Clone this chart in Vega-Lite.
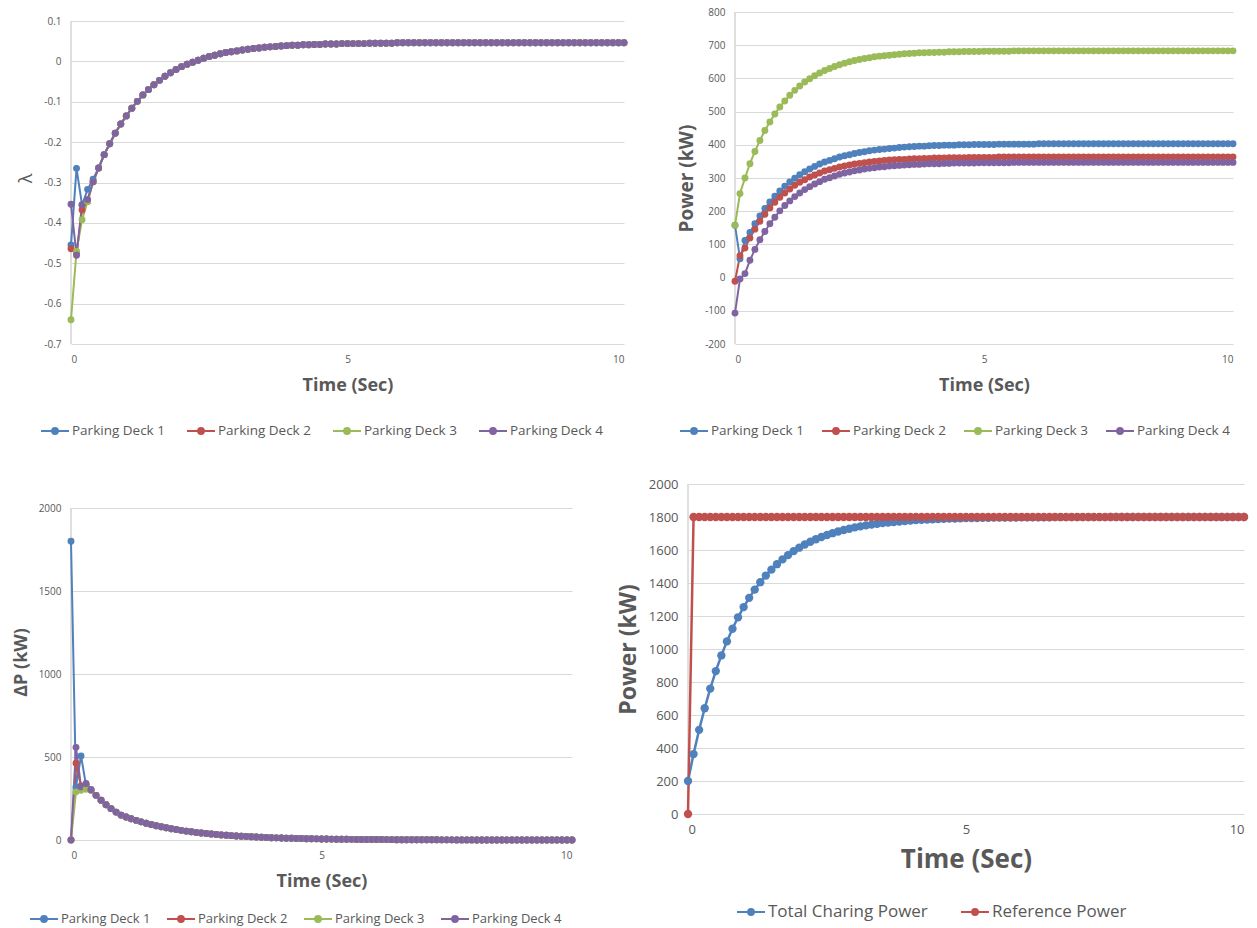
{
"$schema": "https://vega.github.io/schema/vega-lite/v6.json",
"padding": {"left": 12, "top": 7, "right": 5, "bottom": 5},
"config": {
  "font": "Open Sans",
  "locale": {"number": {"decimal": ".", "thousands": ",", "grouping": [3], "currency": ["$", ""], "minus": "-"}},
  "view": {"stroke": null},
  "axis": {"gridColor": "#d9d9d9", "gridWidth": 1, "domain": false, "ticks": false, "labelColor": "#595959", "titleColor": "#595959", "labelFontSize": 10, "titleFontSize": 18, "titleFontWeight": "bold", "labelOverlap": false},
  "axisX": {"grid": false, "labelPadding": 10, "titlePadding": 12},
  "axisY": {"grid": true, "labelPadding": 10, "titlePadding": 8},
  "legend": {"orient": "bottom", "direction": "horizontal", "labelColor": "#595959", "labelFontSize": 13.5, "symbolType": "M-1,0L1,0M0.21,0A0.21,0.21,0,1,1,-0.21,0A0.21,0.21,0,1,1,0.21,0", "symbolSize": 784, "symbolStrokeWidth": 2, "columnPadding": 18, "labelOffset": 2, "offset": 22, "titleOrient": "right", "titleFontSize": 1, "layout": {"bottom": {"anchor": "middle"}}}
},
"datasets": {
"lam": [
{"t":0,"D1":-0.455,"D2":-0.464,"D3":-0.64,"D4":-0.354},
{"t":0.1,"D1":-0.265,"D2":-0.475,"D3":-0.47,"D4":-0.48},
{"t":0.2,"D1":-0.356,"D2":-0.368,"D3":-0.392,"D4":-0.355},
{"t":0.3,"D1":-0.317,"D2":-0.347,"D3":-0.347,"D4":-0.342},
{"t":0.4,"D1":-0.292,"D2":-0.298,"D3":-0.298,"D4":-0.298},
{"t":0.5,"D1":-0.264,"D2":-0.264,"D3":-0.264,"D4":-0.264},
{"t":0.6,"D1":-0.231,"D2":-0.231,"D3":-0.231,"D4":-0.231},
{"t":0.7,"D1":-0.204,"D2":-0.204,"D3":-0.204,"D4":-0.204},
{"t":0.8,"D1":-0.178,"D2":-0.178,"D3":-0.178,"D4":-0.178},
{"t":0.9,"D1":-0.155,"D2":-0.155,"D3":-0.155,"D4":-0.155},
{"t":1,"D1":-0.135,"D2":-0.135,"D3":-0.135,"D4":-0.135},
{"t":1.1,"D1":-0.116,"D2":-0.116,"D3":-0.116,"D4":-0.116},
{"t":1.2,"D1":-0.099,"D2":-0.099,"D3":-0.099,"D4":-0.099},
{"t":1.3,"D1":-0.083,"D2":-0.083,"D3":-0.083,"D4":-0.083},
{"t":1.4,"D1":-0.07,"D2":-0.07,"D3":-0.07,"D4":-0.07},
{"t":1.5,"D1":-0.058,"D2":-0.058,"D3":-0.058,"D4":-0.058},
{"t":1.6,"D1":-0.047,"D2":-0.047,"D3":-0.047,"D4":-0.047},
{"t":1.7,"D1":-0.037,"D2":-0.037,"D3":-0.037,"D4":-0.037},
{"t":1.8,"D1":-0.028,"D2":-0.028,"D3":-0.028,"D4":-0.028},
{"t":1.9,"D1":-0.02,"D2":-0.02,"D3":-0.02,"D4":-0.02},
{"t":2,"D1":-0.013,"D2":-0.013,"D3":-0.013,"D4":-0.013},
{"t":2.1,"D1":-0.007,"D2":-0.007,"D3":-0.007,"D4":-0.007},
{"t":2.2,"D1":-0.002,"D2":-0.002,"D3":-0.002,"D4":-0.002},
{"t":2.3,"D1":0.003,"D2":0.003,"D3":0.003,"D4":0.003},
{"t":2.4,"D1":0.008,"D2":0.008,"D3":0.008,"D4":0.008},
{"t":2.5,"D1":0.012,"D2":0.012,"D3":0.012,"D4":0.012},
{"t":2.6,"D1":0.015,"D2":0.015,"D3":0.015,"D4":0.015},
{"t":2.7,"D1":0.019,"D2":0.019,"D3":0.019,"D4":0.019},
{"t":2.8,"D1":0.022,"D2":0.022,"D3":0.022,"D4":0.022},
{"t":2.9,"D1":0.024,"D2":0.024,"D3":0.024,"D4":0.024},
{"t":3,"D1":0.026,"D2":0.026,"D3":0.026,"D4":0.026},
{"t":3.1,"D1":0.028,"D2":0.028,"D3":0.028,"D4":0.028},
{"t":3.2,"D1":0.03,"D2":0.03,"D3":0.03,"D4":0.03},
{"t":3.3,"D1":0.032,"D2":0.032,"D3":0.032,"D4":0.032},
{"t":3.4,"D1":0.033,"D2":0.033,"D3":0.033,"D4":0.033},
{"t":3.5,"D1":0.035,"D2":0.035,"D3":0.035,"D4":0.035},
{"t":3.6,"D1":0.036,"D2":0.036,"D3":0.036,"D4":0.036},
{"t":3.7,"D1":0.037,"D2":0.037,"D3":0.037,"D4":0.037},
{"t":3.8,"D1":0.038,"D2":0.038,"D3":0.038,"D4":0.038},
{"t":3.9,"D1":0.039,"D2":0.039,"D3":0.039,"D4":0.039},
{"t":4,"D1":0.04,"D2":0.04,"D3":0.04,"D4":0.04},
{"t":4.1,"D1":0.04,"D2":0.04,"D3":0.04,"D4":0.04},
{"t":4.2,"D1":0.041,"D2":0.041,"D3":0.041,"D4":0.041},
{"t":4.3,"D1":0.041,"D2":0.041,"D3":0.041,"D4":0.041},
{"t":4.4,"D1":0.042,"D2":0.042,"D3":0.042,"D4":0.042},
{"t":4.5,"D1":0.042,"D2":0.042,"D3":0.042,"D4":0.042},
{"t":4.6,"D1":0.043,"D2":0.043,"D3":0.043,"D4":0.043},
{"t":4.7,"D1":0.043,"D2":0.043,"D3":0.043,"D4":0.043},
{"t":4.8,"D1":0.043,"D2":0.043,"D3":0.043,"D4":0.043},
{"t":4.9,"D1":0.044,"D2":0.044,"D3":0.044,"D4":0.044},
{"t":5,"D1":0.044,"D2":0.044,"D3":0.044,"D4":0.044},
{"t":5.1,"D1":0.044,"D2":0.044,"D3":0.044,"D4":0.044},
{"t":5.2,"D1":0.044,"D2":0.044,"D3":0.044,"D4":0.044},
{"t":5.3,"D1":0.044,"D2":0.044,"D3":0.044,"D4":0.044},
{"t":5.4,"D1":0.045,"D2":0.045,"D3":0.045,"D4":0.045},
{"t":5.5,"D1":0.045,"D2":0.045,"D3":0.045,"D4":0.045},
{"t":5.6,"D1":0.045,"D2":0.045,"D3":0.045,"D4":0.045},
{"t":5.7,"D1":0.045,"D2":0.045,"D3":0.045,"D4":0.045},
{"t":5.8,"D1":0.045,"D2":0.045,"D3":0.045,"D4":0.045},
{"t":5.9,"D1":0.046,"D2":0.046,"D3":0.046,"D4":0.046},
{"t":6,"D1":0.046,"D2":0.046,"D3":0.046,"D4":0.046},
{"t":6.1,"D1":0.046,"D2":0.046,"D3":0.046,"D4":0.046},
{"t":6.2,"D1":0.046,"D2":0.046,"D3":0.046,"D4":0.046},
{"t":6.3,"D1":0.046,"D2":0.046,"D3":0.046,"D4":0.046},
{"t":6.4,"D1":0.046,"D2":0.046,"D3":0.046,"D4":0.046},
{"t":6.5,"D1":0.046,"D2":0.046,"D3":0.046,"D4":0.046},
{"t":6.6,"D1":0.046,"D2":0.046,"D3":0.046,"D4":0.046},
{"t":6.7,"D1":0.046,"D2":0.046,"D3":0.046,"D4":0.046},
{"t":6.8,"D1":0.046,"D2":0.046,"D3":0.046,"D4":0.046},
{"t":6.9,"D1":0.046,"D2":0.046,"D3":0.046,"D4":0.046},
{"t":7,"D1":0.046,"D2":0.046,"D3":0.046,"D4":0.046},
{"t":7.1,"D1":0.046,"D2":0.046,"D3":0.046,"D4":0.046},
{"t":7.2,"D1":0.046,"D2":0.046,"D3":0.046,"D4":0.046},
{"t":7.3,"D1":0.046,"D2":0.046,"D3":0.046,"D4":0.046},
{"t":7.4,"D1":0.046,"D2":0.046,"D3":0.046,"D4":0.046},
{"t":7.5,"D1":0.046,"D2":0.046,"D3":0.046,"D4":0.046},
{"t":7.6,"D1":0.046,"D2":0.046,"D3":0.046,"D4":0.046},
{"t":7.7,"D1":0.046,"D2":0.046,"D3":0.046,"D4":0.046},
{"t":7.8,"D1":0.046,"D2":0.046,"D3":0.046,"D4":0.046},
{"t":7.9,"D1":0.046,"D2":0.046,"D3":0.046,"D4":0.046},
{"t":8,"D1":0.046,"D2":0.046,"D3":0.046,"D4":0.046},
{"t":8.1,"D1":0.046,"D2":0.046,"D3":0.046,"D4":0.046},
{"t":8.2,"D1":0.046,"D2":0.046,"D3":0.046,"D4":0.046},
{"t":8.3,"D1":0.046,"D2":0.046,"D3":0.046,"D4":0.046},
{"t":8.4,"D1":0.046,"D2":0.046,"D3":0.046,"D4":0.046},
{"t":8.5,"D1":0.046,"D2":0.046,"D3":0.046,"D4":0.046},
{"t":8.6,"D1":0.046,"D2":0.046,"D3":0.046,"D4":0.046},
{"t":8.7,"D1":0.046,"D2":0.046,"D3":0.046,"D4":0.046},
{"t":8.8,"D1":0.046,"D2":0.046,"D3":0.046,"D4":0.046},
{"t":8.9,"D1":0.046,"D2":0.046,"D3":0.046,"D4":0.046},
{"t":9,"D1":0.046,"D2":0.046,"D3":0.046,"D4":0.046},
{"t":9.1,"D1":0.046,"D2":0.046,"D3":0.046,"D4":0.046},
{"t":9.2,"D1":0.046,"D2":0.046,"D3":0.046,"D4":0.046},
{"t":9.3,"D1":0.046,"D2":0.046,"D3":0.046,"D4":0.046},
{"t":9.4,"D1":0.046,"D2":0.046,"D3":0.046,"D4":0.046},
{"t":9.5,"D1":0.046,"D2":0.046,"D3":0.046,"D4":0.046},
{"t":9.6,"D1":0.046,"D2":0.046,"D3":0.046,"D4":0.046},
{"t":9.7,"D1":0.046,"D2":0.046,"D3":0.046,"D4":0.046},
{"t":9.8,"D1":0.046,"D2":0.046,"D3":0.046,"D4":0.046},
{"t":9.9,"D1":0.046,"D2":0.046,"D3":0.046,"D4":0.046},
{"t":10,"D1":0.046,"D2":0.046,"D3":0.046,"D4":0.046}
],
"pow": [
{"t":0,"D1":158,"D2":-11,"D3":158,"D4":-107},
{"t":0.1,"D1":57,"D2":66,"D3":253,"D4":-4},
{"t":0.2,"D1":112,"D2":89,"D3":300,"D4":12},
{"t":0.3,"D1":136,"D2":119,"D3":343,"D4":52},
{"t":0.4,"D1":162,"D2":146,"D3":380,"D4":85},
{"t":0.5,"D1":186,"D2":170,"D3":413,"D4":114},
{"t":0.6,"D1":208,"D2":191,"D3":443,"D4":139},
{"t":0.7,"D1":228,"D2":210,"D3":469,"D4":162},
{"t":0.8,"D1":245,"D2":227,"D3":493,"D4":182},
{"t":0.9,"D1":261,"D2":242,"D3":514,"D4":201},
{"t":1,"D1":275,"D2":255,"D3":532,"D4":217},
{"t":1.1,"D1":288,"D2":267,"D3":549,"D4":231},
{"t":1.2,"D1":299,"D2":278,"D3":564,"D4":244},
{"t":1.3,"D1":310,"D2":287,"D3":577,"D4":255},
{"t":1.4,"D1":319,"D2":295,"D3":589,"D4":265},
{"t":1.5,"D1":327,"D2":303,"D3":599,"D4":274},
{"t":1.6,"D1":335,"D2":309,"D3":608,"D4":282},
{"t":1.7,"D1":342,"D2":315,"D3":616,"D4":289},
{"t":1.8,"D1":348,"D2":321,"D3":624,"D4":296},
{"t":1.9,"D1":353,"D2":325,"D3":630,"D4":301},
{"t":2,"D1":358,"D2":329,"D3":636,"D4":306},
{"t":2.1,"D1":363,"D2":333,"D3":641,"D4":311},
{"t":2.2,"D1":367,"D2":336,"D3":646,"D4":315},
{"t":2.3,"D1":370,"D2":339,"D3":650,"D4":318},
{"t":2.4,"D1":374,"D2":342,"D3":654,"D4":322},
{"t":2.5,"D1":377,"D2":344,"D3":657,"D4":324},
{"t":2.6,"D1":379,"D2":346,"D3":660,"D4":327},
{"t":2.7,"D1":382,"D2":348,"D3":662,"D4":329},
{"t":2.8,"D1":384,"D2":350,"D3":665,"D4":331},
{"t":2.9,"D1":386,"D2":351,"D3":667,"D4":333},
{"t":3,"D1":387,"D2":353,"D3":668,"D4":334},
{"t":3.1,"D1":389,"D2":354,"D3":670,"D4":336},
{"t":3.2,"D1":390,"D2":355,"D3":671,"D4":337},
{"t":3.3,"D1":392,"D2":356,"D3":673,"D4":338},
{"t":3.4,"D1":393,"D2":356,"D3":674,"D4":339},
{"t":3.5,"D1":394,"D2":357,"D3":675,"D4":340},
{"t":3.6,"D1":395,"D2":358,"D3":676,"D4":341},
{"t":3.7,"D1":396,"D2":358,"D3":677,"D4":341},
{"t":3.8,"D1":396,"D2":359,"D3":677,"D4":342},
{"t":3.9,"D1":397,"D2":359,"D3":678,"D4":343},
{"t":4,"D1":398,"D2":360,"D3":678,"D4":343},
{"t":4.1,"D1":398,"D2":360,"D3":679,"D4":343},
{"t":4.2,"D1":399,"D2":360,"D3":679,"D4":344},
{"t":4.3,"D1":399,"D2":361,"D3":680,"D4":344},
{"t":4.4,"D1":399,"D2":361,"D3":680,"D4":345},
{"t":4.5,"D1":400,"D2":361,"D3":680,"D4":345},
{"t":4.6,"D1":400,"D2":361,"D3":681,"D4":345},
{"t":4.7,"D1":400,"D2":362,"D3":681,"D4":345},
{"t":4.8,"D1":401,"D2":362,"D3":681,"D4":345},
{"t":4.9,"D1":401,"D2":362,"D3":681,"D4":346},
{"t":5,"D1":401,"D2":362,"D3":682,"D4":346},
{"t":5.1,"D1":401,"D2":362,"D3":682,"D4":346},
{"t":5.2,"D1":401,"D2":362,"D3":682,"D4":346},
{"t":5.3,"D1":402,"D2":363,"D3":682,"D4":346},
{"t":5.4,"D1":402,"D2":363,"D3":682,"D4":346},
{"t":5.5,"D1":402,"D2":363,"D3":682,"D4":346},
{"t":5.6,"D1":402,"D2":363,"D3":683,"D4":347},
{"t":5.7,"D1":402,"D2":363,"D3":683,"D4":347},
{"t":5.8,"D1":402,"D2":363,"D3":683,"D4":347},
{"t":5.9,"D1":402,"D2":363,"D3":683,"D4":347},
{"t":6,"D1":402,"D2":363,"D3":683,"D4":347},
{"t":6.1,"D1":403,"D2":363,"D3":683,"D4":347},
{"t":6.2,"D1":403,"D2":363,"D3":683,"D4":347},
{"t":6.3,"D1":403,"D2":363,"D3":683,"D4":347},
{"t":6.4,"D1":403,"D2":363,"D3":683,"D4":347},
{"t":6.5,"D1":403,"D2":363,"D3":683,"D4":347},
{"t":6.6,"D1":403,"D2":363,"D3":683,"D4":347},
{"t":6.7,"D1":403,"D2":363,"D3":683,"D4":347},
{"t":6.8,"D1":403,"D2":363,"D3":683,"D4":347},
{"t":6.9,"D1":403,"D2":363,"D3":683,"D4":347},
{"t":7,"D1":403,"D2":363,"D3":683,"D4":347},
{"t":7.1,"D1":403,"D2":363,"D3":683,"D4":347},
{"t":7.2,"D1":403,"D2":363,"D3":683,"D4":347},
{"t":7.3,"D1":403,"D2":363,"D3":683,"D4":347},
{"t":7.4,"D1":403,"D2":363,"D3":683,"D4":347},
{"t":7.5,"D1":403,"D2":363,"D3":683,"D4":347},
{"t":7.6,"D1":403,"D2":363,"D3":683,"D4":347},
{"t":7.7,"D1":403,"D2":363,"D3":683,"D4":347},
{"t":7.8,"D1":403,"D2":363,"D3":683,"D4":347},
{"t":7.9,"D1":403,"D2":363,"D3":683,"D4":347},
{"t":8,"D1":403,"D2":363,"D3":683,"D4":347},
{"t":8.1,"D1":403,"D2":363,"D3":683,"D4":347},
{"t":8.2,"D1":403,"D2":363,"D3":683,"D4":347},
{"t":8.3,"D1":403,"D2":363,"D3":683,"D4":347},
{"t":8.4,"D1":403,"D2":363,"D3":683,"D4":347},
{"t":8.5,"D1":403,"D2":363,"D3":683,"D4":347},
{"t":8.6,"D1":403,"D2":363,"D3":683,"D4":347},
{"t":8.7,"D1":403,"D2":363,"D3":683,"D4":347},
{"t":8.8,"D1":403,"D2":363,"D3":683,"D4":347},
{"t":8.9,"D1":403,"D2":363,"D3":683,"D4":347},
{"t":9,"D1":403,"D2":363,"D3":683,"D4":347},
{"t":9.1,"D1":403,"D2":363,"D3":683,"D4":347},
{"t":9.2,"D1":403,"D2":363,"D3":683,"D4":347},
{"t":9.3,"D1":403,"D2":363,"D3":683,"D4":347},
{"t":9.4,"D1":403,"D2":363,"D3":683,"D4":347},
{"t":9.5,"D1":403,"D2":363,"D3":683,"D4":347},
{"t":9.6,"D1":403,"D2":363,"D3":683,"D4":347},
{"t":9.7,"D1":403,"D2":363,"D3":683,"D4":347},
{"t":9.8,"D1":403,"D2":363,"D3":683,"D4":347},
{"t":9.9,"D1":403,"D2":363,"D3":683,"D4":347},
{"t":10,"D1":403,"D2":363,"D3":683,"D4":347}
],
"dp": [
{"t":0,"D1":1800,"D2":0,"D3":0,"D4":0},
{"t":0.1,"D1":320,"D2":462,"D3":290,"D4":558},
{"t":0.2,"D1":506,"D2":325,"D3":300,"D4":320},
{"t":0.3,"D1":330,"D2":335,"D3":305,"D4":340},
{"t":0.4,"D1":305,"D2":300,"D3":300,"D4":302},
{"t":0.5,"D1":269,"D2":269,"D3":269,"D4":269},
{"t":0.6,"D1":239,"D2":239,"D3":239,"D4":239},
{"t":0.7,"D1":212,"D2":212,"D3":212,"D4":212},
{"t":0.8,"D1":189,"D2":189,"D3":189,"D4":189},
{"t":0.9,"D1":168,"D2":168,"D3":168,"D4":168},
{"t":1,"D1":150,"D2":150,"D3":150,"D4":150},
{"t":1.1,"D1":138.6,"D2":138.6,"D3":138.6,"D4":138.6},
{"t":1.2,"D1":128.1,"D2":128.1,"D3":128.1,"D4":128.1},
{"t":1.3,"D1":118.3,"D2":118.3,"D3":118.3,"D4":118.3},
{"t":1.4,"D1":109.3,"D2":109.3,"D3":109.3,"D4":109.3},
{"t":1.5,"D1":101,"D2":101,"D3":101,"D4":101},
{"t":1.6,"D1":93.3,"D2":93.3,"D3":93.3,"D4":93.3},
{"t":1.7,"D1":86.2,"D2":86.2,"D3":86.2,"D4":86.2},
{"t":1.8,"D1":79.7,"D2":79.7,"D3":79.7,"D4":79.7},
{"t":1.9,"D1":73.6,"D2":73.6,"D3":73.6,"D4":73.6},
{"t":2,"D1":68,"D2":68,"D3":68,"D4":68},
{"t":2.1,"D1":62.8,"D2":62.8,"D3":62.8,"D4":62.8},
{"t":2.2,"D1":58.1,"D2":58.1,"D3":58.1,"D4":58.1},
{"t":2.3,"D1":53.6,"D2":53.6,"D3":53.6,"D4":53.6},
{"t":2.4,"D1":49.6,"D2":49.6,"D3":49.6,"D4":49.6},
{"t":2.5,"D1":45.8,"D2":45.8,"D3":45.8,"D4":45.8},
{"t":2.6,"D1":42.3,"D2":42.3,"D3":42.3,"D4":42.3},
{"t":2.7,"D1":39.1,"D2":39.1,"D3":39.1,"D4":39.1},
{"t":2.8,"D1":36.1,"D2":36.1,"D3":36.1,"D4":36.1},
{"t":2.9,"D1":33.4,"D2":33.4,"D3":33.4,"D4":33.4},
{"t":3,"D1":30.8,"D2":30.8,"D3":30.8,"D4":30.8},
{"t":3.1,"D1":28.5,"D2":28.5,"D3":28.5,"D4":28.5},
{"t":3.2,"D1":26.3,"D2":26.3,"D3":26.3,"D4":26.3},
{"t":3.3,"D1":24.3,"D2":24.3,"D3":24.3,"D4":24.3},
{"t":3.4,"D1":22.5,"D2":22.5,"D3":22.5,"D4":22.5},
{"t":3.5,"D1":20.8,"D2":20.8,"D3":20.8,"D4":20.8},
{"t":3.6,"D1":19.2,"D2":19.2,"D3":19.2,"D4":19.2},
{"t":3.7,"D1":17.7,"D2":17.7,"D3":17.7,"D4":17.7},
{"t":3.8,"D1":16.4,"D2":16.4,"D3":16.4,"D4":16.4},
{"t":3.9,"D1":15.1,"D2":15.1,"D3":15.1,"D4":15.1},
{"t":4,"D1":14,"D2":14,"D3":14,"D4":14},
{"t":4.1,"D1":12.9,"D2":12.9,"D3":12.9,"D4":12.9},
{"t":4.2,"D1":11.9,"D2":11.9,"D3":11.9,"D4":11.9},
{"t":4.3,"D1":11,"D2":11,"D3":11,"D4":11},
{"t":4.4,"D1":10.2,"D2":10.2,"D3":10.2,"D4":10.2},
{"t":4.5,"D1":9.4,"D2":9.4,"D3":9.4,"D4":9.4},
{"t":4.6,"D1":8.7,"D2":8.7,"D3":8.7,"D4":8.7},
{"t":4.7,"D1":8,"D2":8,"D3":8,"D4":8},
{"t":4.8,"D1":7.4,"D2":7.4,"D3":7.4,"D4":7.4},
{"t":4.9,"D1":6.9,"D2":6.9,"D3":6.9,"D4":6.9},
{"t":5,"D1":6.3,"D2":6.3,"D3":6.3,"D4":6.3},
{"t":5.1,"D1":5.9,"D2":5.9,"D3":5.9,"D4":5.9},
{"t":5.2,"D1":5.4,"D2":5.4,"D3":5.4,"D4":5.4},
{"t":5.3,"D1":5,"D2":5,"D3":5,"D4":5},
{"t":5.4,"D1":4.6,"D2":4.6,"D3":4.6,"D4":4.6},
{"t":5.5,"D1":4.3,"D2":4.3,"D3":4.3,"D4":4.3},
{"t":5.6,"D1":3.9,"D2":3.9,"D3":3.9,"D4":3.9},
{"t":5.7,"D1":3.6,"D2":3.6,"D3":3.6,"D4":3.6},
{"t":5.8,"D1":3.4,"D2":3.4,"D3":3.4,"D4":3.4},
{"t":5.9,"D1":3.1,"D2":3.1,"D3":3.1,"D4":3.1},
{"t":6,"D1":2.9,"D2":2.9,"D3":2.9,"D4":2.9},
{"t":6.1,"D1":2.7,"D2":2.7,"D3":2.7,"D4":2.7},
{"t":6.2,"D1":2.5,"D2":2.5,"D3":2.5,"D4":2.5},
{"t":6.3,"D1":2.3,"D2":2.3,"D3":2.3,"D4":2.3},
{"t":6.4,"D1":2.1,"D2":2.1,"D3":2.1,"D4":2.1},
{"t":6.5,"D1":1.9,"D2":1.9,"D3":1.9,"D4":1.9},
{"t":6.6,"D1":1.8,"D2":1.8,"D3":1.8,"D4":1.8},
{"t":6.7,"D1":1.6,"D2":1.6,"D3":1.6,"D4":1.6},
{"t":6.8,"D1":1.5,"D2":1.5,"D3":1.5,"D4":1.5},
{"t":6.9,"D1":1.4,"D2":1.4,"D3":1.4,"D4":1.4},
{"t":7,"D1":1.3,"D2":1.3,"D3":1.3,"D4":1.3},
{"t":7.1,"D1":1.2,"D2":1.2,"D3":1.2,"D4":1.2},
{"t":7.2,"D1":1.1,"D2":1.1,"D3":1.1,"D4":1.1},
{"t":7.3,"D1":1,"D2":1,"D3":1,"D4":1},
{"t":7.4,"D1":0.9,"D2":0.9,"D3":0.9,"D4":0.9},
{"t":7.5,"D1":0.9,"D2":0.9,"D3":0.9,"D4":0.9},
{"t":7.6,"D1":0.8,"D2":0.8,"D3":0.8,"D4":0.8},
{"t":7.7,"D1":0.7,"D2":0.7,"D3":0.7,"D4":0.7},
{"t":7.8,"D1":0.7,"D2":0.7,"D3":0.7,"D4":0.7},
{"t":7.9,"D1":0.6,"D2":0.6,"D3":0.6,"D4":0.6},
{"t":8,"D1":0.6,"D2":0.6,"D3":0.6,"D4":0.6},
{"t":8.1,"D1":0.5,"D2":0.5,"D3":0.5,"D4":0.5},
{"t":8.2,"D1":0.5,"D2":0.5,"D3":0.5,"D4":0.5},
{"t":8.3,"D1":0.4,"D2":0.4,"D3":0.4,"D4":0.4},
{"t":8.4,"D1":0.4,"D2":0.4,"D3":0.4,"D4":0.4},
{"t":8.5,"D1":0.4,"D2":0.4,"D3":0.4,"D4":0.4},
{"t":8.6,"D1":0.3,"D2":0.3,"D3":0.3,"D4":0.3},
{"t":8.7,"D1":0.3,"D2":0.3,"D3":0.3,"D4":0.3},
{"t":8.8,"D1":0.3,"D2":0.3,"D3":0.3,"D4":0.3},
{"t":8.9,"D1":0.3,"D2":0.3,"D3":0.3,"D4":0.3},
{"t":9,"D1":0.2,"D2":0.2,"D3":0.2,"D4":0.2},
{"t":9.1,"D1":0.2,"D2":0.2,"D3":0.2,"D4":0.2},
{"t":9.2,"D1":0.2,"D2":0.2,"D3":0.2,"D4":0.2},
{"t":9.3,"D1":0.2,"D2":0.2,"D3":0.2,"D4":0.2},
{"t":9.4,"D1":0.2,"D2":0.2,"D3":0.2,"D4":0.2},
{"t":9.5,"D1":0.2,"D2":0.2,"D3":0.2,"D4":0.2},
{"t":9.6,"D1":0.2,"D2":0.2,"D3":0.2,"D4":0.2},
{"t":9.7,"D1":0.2,"D2":0.2,"D3":0.2,"D4":0.2},
{"t":9.8,"D1":0.2,"D2":0.2,"D3":0.2,"D4":0.2},
{"t":9.9,"D1":0.2,"D2":0.2,"D3":0.2,"D4":0.2},
{"t":10,"D1":0.2,"D2":0.2,"D3":0.2,"D4":0.2}
],
"tot": [
{"t":0,"T":200,"R":0},
{"t":0.1,"T":363,"R":1800},
{"t":0.2,"T":510,"R":1800},
{"t":0.3,"T":641,"R":1800},
{"t":0.4,"T":760,"R":1800},
{"t":0.5,"T":866,"R":1800},
{"t":0.6,"T":961,"R":1800},
{"t":0.7,"T":1046,"R":1800},
{"t":0.8,"T":1123,"R":1800},
{"t":0.9,"T":1192,"R":1800},
{"t":1,"T":1254,"R":1800},
{"t":1.1,"T":1310,"R":1800},
{"t":1.2,"T":1360,"R":1800},
{"t":1.3,"T":1405,"R":1800},
{"t":1.4,"T":1445,"R":1800},
{"t":1.5,"T":1481,"R":1800},
{"t":1.6,"T":1514,"R":1800},
{"t":1.7,"T":1543,"R":1800},
{"t":1.8,"T":1569,"R":1800},
{"t":1.9,"T":1593,"R":1800},
{"t":2,"T":1614,"R":1800},
{"t":2.1,"T":1633,"R":1800},
{"t":2.2,"T":1650,"R":1800},
{"t":2.3,"T":1665,"R":1800},
{"t":2.4,"T":1679,"R":1800},
{"t":2.5,"T":1691,"R":1800},
{"t":2.6,"T":1702,"R":1800},
{"t":2.7,"T":1712,"R":1800},
{"t":2.8,"T":1721,"R":1800},
{"t":2.9,"T":1729,"R":1800},
{"t":3,"T":1737,"R":1800},
{"t":3.1,"T":1743,"R":1800},
{"t":3.2,"T":1749,"R":1800},
{"t":3.3,"T":1754,"R":1800},
{"t":3.4,"T":1759,"R":1800},
{"t":3.5,"T":1763,"R":1800},
{"t":3.6,"T":1767,"R":1800},
{"t":3.7,"T":1770,"R":1800},
{"t":3.8,"T":1773,"R":1800},
{"t":3.9,"T":1776,"R":1800},
{"t":4,"T":1778,"R":1800},
{"t":4.1,"T":1781,"R":1800},
{"t":4.2,"T":1783,"R":1800},
{"t":4.3,"T":1784,"R":1800},
{"t":4.4,"T":1786,"R":1800},
{"t":4.5,"T":1787,"R":1800},
{"t":4.6,"T":1789,"R":1800},
{"t":4.7,"T":1790,"R":1800},
{"t":4.8,"T":1791,"R":1800},
{"t":4.9,"T":1792,"R":1800},
{"t":5,"T":1793,"R":1800},
{"t":5.1,"T":1793,"R":1800},
{"t":5.2,"T":1794,"R":1800},
{"t":5.3,"T":1795,"R":1800},
{"t":5.4,"T":1795,"R":1800},
{"t":5.5,"T":1796,"R":1800},
{"t":5.6,"T":1796,"R":1800},
{"t":5.7,"T":1797,"R":1800},
{"t":5.8,"T":1797,"R":1800},
{"t":5.9,"T":1797,"R":1800},
{"t":6,"T":1798,"R":1800},
{"t":6.1,"T":1798,"R":1800},
{"t":6.2,"T":1798,"R":1800},
{"t":6.3,"T":1798,"R":1800},
{"t":6.4,"T":1798,"R":1800},
{"t":6.5,"T":1798,"R":1800},
{"t":6.6,"T":1799,"R":1800},
{"t":6.7,"T":1799,"R":1800},
{"t":6.8,"T":1799,"R":1800},
{"t":6.9,"T":1799,"R":1800},
{"t":7,"T":1799,"R":1800},
{"t":7.1,"T":1799,"R":1800},
{"t":7.2,"T":1799,"R":1800},
{"t":7.3,"T":1799,"R":1800},
{"t":7.4,"T":1799,"R":1800},
{"t":7.5,"T":1799,"R":1800},
{"t":7.6,"T":1800,"R":1800},
{"t":7.7,"T":1800,"R":1800},
{"t":7.8,"T":1800,"R":1800},
{"t":7.9,"T":1800,"R":1800},
{"t":8,"T":1800,"R":1800},
{"t":8.1,"T":1800,"R":1800},
{"t":8.2,"T":1800,"R":1800},
{"t":8.3,"T":1800,"R":1800},
{"t":8.4,"T":1800,"R":1800},
{"t":8.5,"T":1800,"R":1800},
{"t":8.6,"T":1800,"R":1800},
{"t":8.7,"T":1800,"R":1800},
{"t":8.8,"T":1800,"R":1800},
{"t":8.9,"T":1800,"R":1800},
{"t":9,"T":1800,"R":1800},
{"t":9.1,"T":1800,"R":1800},
{"t":9.2,"T":1800,"R":1800},
{"t":9.3,"T":1800,"R":1800},
{"t":9.4,"T":1800,"R":1800},
{"t":9.5,"T":1800,"R":1800},
{"t":9.6,"T":1800,"R":1800},
{"t":9.7,"T":1800,"R":1800},
{"t":9.8,"T":1800,"R":1800},
{"t":9.9,"T":1800,"R":1800},
{"t":10,"T":1800,"R":1800}
]
},
"resolve": {"scale": {"color": "independent", "x": "independent", "y": "independent"}, "legend": {"color": "independent"}},
"spacing": 40,
"vconcat": [
{
"spacing": 22,
"resolve": {"scale": {"color": "independent", "x": "independent", "y": "independent"}, "legend": {"color": "independent"}},
"hconcat": [
{
"width": 553, "height": 332,
"layer": [
{"data": {"values": [{}]}, "mark": {"type": "rule", "color": "#bfbfbf", "strokeWidth": 1},
 "encoding": {
  "x": {"datum": 0, "type": "quantitative", "scale": {"domain": [0, 10], "nice": false}, "axis": {"values": [0, 5, 10], "title": "Time (Sec)"}},
  "y": {"datum": -0.7, "type": "quantitative", "scale": {"domain": [-0.7, 0.1223], "nice": false, "zero": false}, "axis": {"grid": true, "values": [-0.7, -0.6, -0.5, -0.4, -0.3, -0.2, -0.1, 0, 0.1], "format": ".1~f", "title": "λ", "titleFontWeight": "normal", "titleFontSize": 18}},
  "y2": {"datum": 0.1}}},
{"data": {"name": "lam"}, "transform": [{"fold": ["D1", "D2", "D3", "D4"], "as": ["s", "v"]}],
 "mark": {"type": "line", "strokeWidth": 2, "point": {"filled": true, "size": 48}},
 "encoding": {
  "x": {"field": "t", "type": "quantitative", "scale": {"domain": [0, 10], "nice": false}, "axis": {"values": [0, 5, 10], "title": "Time (Sec)"}},
  "y": {"field": "v", "type": "quantitative", "scale": {"domain": [-0.7, 0.1223], "nice": false, "zero": false}, "axis": {"grid": true, "values": [-0.7, -0.6, -0.5, -0.4, -0.3, -0.2, -0.1, 0, 0.1], "format": ".1~f", "title": "λ", "titleFontWeight": "normal", "titleFontSize": 18}},
  "color": {"field": "s", "type": "nominal", "scale": {"domain": ["D1", "D2", "D3", "D4"], "range": ["#4F81BD", "#C0504D", "#9BBB59", "#8064A2"]}, "legend": {"title": " ", "titlePadding": 52, "offset": 22, "labelExpr": "'Parking Deck ' + substring(datum.label, 1)"}}
 }}
]
},
{
"width": 498, "height": 332,
"layer": [
{"data": {"values": [{}]}, "mark": {"type": "rule", "color": "#bfbfbf", "strokeWidth": 1},
 "encoding": {
  "x": {"datum": 0, "type": "quantitative", "scale": {"domain": [0, 10], "nice": false}, "axis": {"values": [0, 5, 10], "title": "Time (Sec)"}},
  "y": {"datum": -200, "type": "quantitative", "scale": {"domain": [-200, 800], "nice": false, "zero": false}, "axis": {"grid": true, "values": [-200, -100, 0, 100, 200, 300, 400, 500, 600, 700, 800], "format": "d", "title": "Power (kW)", "titleFontSize": 19}},
  "y2": {"datum": 800}}},
{"data": {"name": "pow"}, "transform": [{"fold": ["D1", "D2", "D3", "D4"], "as": ["s", "v"]}],
 "mark": {"type": "line", "strokeWidth": 2, "point": {"filled": true, "size": 48}},
 "encoding": {
  "x": {"field": "t", "type": "quantitative", "scale": {"domain": [0, 10], "nice": false}, "axis": {"values": [0, 5, 10], "title": "Time (Sec)"}},
  "y": {"field": "v", "type": "quantitative", "scale": {"domain": [-200, 800], "nice": false, "zero": false}, "axis": {"grid": true, "values": [-200, -100, 0, 100, 200, 300, 400, 500, 600, 700, 800], "format": "d", "title": "Power (kW)", "titleFontSize": 19}},
  "color": {"field": "s", "type": "nominal", "scale": {"domain": ["D1", "D2", "D3", "D4"], "range": ["#4F81BD", "#C0504D", "#9BBB59", "#8064A2"]}, "legend": {"title": " ", "titlePadding": 60, "offset": 22, "columnPadding": 14, "labelExpr": "'Parking Deck ' + substring(datum.label, 1)"}}
 }}
]
}
]
},
{
"spacing": 2,
"resolve": {"scale": {"color": "independent", "x": "independent", "y": "independent"}, "legend": {"color": "independent"}},
"hconcat": [
{
"width": 501, "height": 356,
"layer": [
{"data": {"values": [{}]}, "mark": {"type": "rule", "color": "#bfbfbf", "strokeWidth": 1},
 "encoding": {
  "x": {"datum": 0, "type": "quantitative", "scale": {"domain": [0, 10], "nice": false}, "axis": {"values": [0, 5, 10], "title": "Time (Sec)"}},
  "y": {"datum": 0, "type": "quantitative", "scale": {"domain": [0, 2144.6], "nice": false}, "axis": {"grid": true, "values": [0, 500, 1000, 1500, 2000], "format": "d", "title": "ΔP (kW)", "titleFontSize": 18}},
  "y2": {"datum": 2000}}},
{"data": {"name": "dp"}, "transform": [{"fold": ["D1", "D2", "D3", "D4"], "as": ["s", "v"]}],
 "mark": {"type": "line", "strokeWidth": 2, "point": {"filled": true, "size": 48}},
 "encoding": {
  "x": {"field": "t", "type": "quantitative", "scale": {"domain": [0, 10], "nice": false}, "axis": {"values": [0, 5, 10], "title": "Time (Sec)"}},
  "y": {"field": "v", "type": "quantitative", "scale": {"domain": [0, 2144.6], "nice": false}, "axis": {"grid": true, "values": [0, 500, 1000, 1500, 2000], "format": "d", "title": "ΔP (kW)", "titleFontSize": 18}},
  "color": {"field": "s", "type": "nominal", "scale": {"domain": ["D1", "D2", "D3", "D4"], "range": ["#4F81BD", "#C0504D", "#9BBB59", "#8064A2"]}, "legend": {"title": " ", "titlePadding": 54, "offset": 14, "labelFontSize": 13, "columnPadding": 12, "labelExpr": "'Parking Deck ' + substring(datum.label, 1)"}}
 }}
]
},
{
"width": 556, "height": 330,
"layer": [
{"data": {"values": [{}]}, "mark": {"type": "rule", "color": "#bfbfbf", "strokeWidth": 1},
 "encoding": {
  "x": {"datum": 0, "type": "quantitative", "scale": {"domain": [0, 10], "nice": false}, "axis": {"values": [0, 5, 10], "title": "Time (Sec)", "labelFontSize": 13, "titleFontSize": 26, "labelPadding": 9, "titlePadding": 10}},
  "y": {"datum": 0, "type": "quantitative", "scale": {"domain": [0, 2000], "nice": false}, "axis": {"grid": true, "values": [0, 200, 400, 600, 800, 1000, 1200, 1400, 1600, 1800, 2000], "format": "d", "title": "Power (kW)", "labelFontSize": 13, "titleFontSize": 23, "titlePadding": 8}},
  "y2": {"datum": 2000}}},
{"data": {"name": "tot"}, "transform": [{"fold": ["T", "R"], "as": ["s", "v"]}],
 "mark": {"type": "line", "strokeWidth": 2.5, "point": {"filled": true, "size": 70}},
 "encoding": {
  "x": {"field": "t", "type": "quantitative", "scale": {"domain": [0, 10], "nice": false}, "axis": {"values": [0, 5, 10], "title": "Time (Sec)", "labelFontSize": 13, "titleFontSize": 26, "labelPadding": 9, "titlePadding": 10}},
  "y": {"field": "v", "type": "quantitative", "scale": {"domain": [0, 2000], "nice": false}, "axis": {"grid": true, "values": [0, 200, 400, 600, 800, 1000, 1200, 1400, 1600, 1800, 2000], "format": "d", "title": "Power (kW)", "labelFontSize": 13, "titleFontSize": 23, "titlePadding": 8}},
  "color": {"field": "s", "type": "nominal", "scale": {"domain": ["T", "R"], "range": ["#4F81BD", "#C0504D"]}, "legend": {"title": " ", "titlePadding": 70, "offset": 25, "labelExpr": "datum.label == 'T' ? 'Total Charing Power' : 'Reference Power'", "labelFontSize": 17, "columnPadding": 29}}
 }}
]
}
]
}
]
}
